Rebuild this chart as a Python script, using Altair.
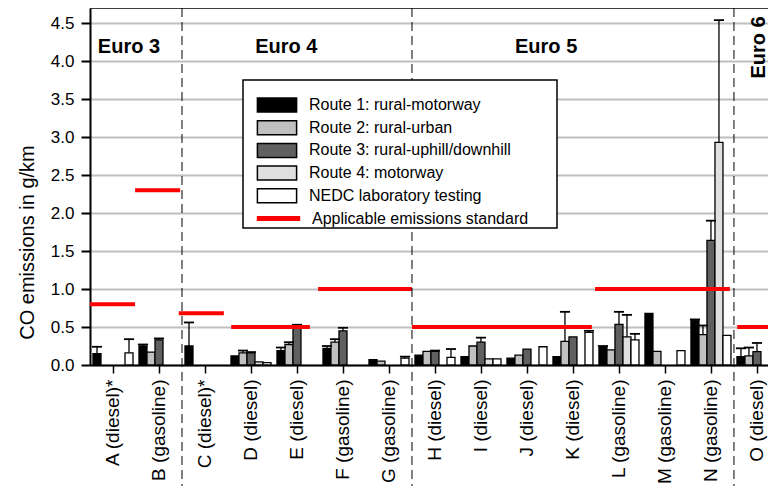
import json
import altair as alt
import pandas as pd

# ---------------- data ----------------
vehicles = ["A (diesel)*", "B (gasoline)", "C (diesel)*", "D (diesel)", "E (diesel)",
            "F (gasoline)", "G (gasoline)", "H (diesel)", "I (diesel)", "J (diesel)",
            "K (diesel)", "L (gasoline)", "M (gasoline)", "N (gasoline)", "O (diesel)"]

series_names = ["Route 1: rural-motorway", "Route 2: rural-urban",
                "Route 3: rural-uphill/downhill", "Route 4: motorway",
                "NEDC laboratory testing"]
series_colors = ["#000000", "#c0c0c0", "#606060", "#e0e0e0", "#ffffff"]

route1 = [0.15, 0.25, 0.25, 0.12, 0.19, 0.22, 0.07, 0.13, 0.11, 0.09, 0.11, 0.24, 0.68, 0.59, 0.11]
route1_hi = [0.24, 0.27, 0.56, None, 0.23, 0.25, None, None, None, None, None, 0.25, None, 0.60, 0.22]
route2 = [0.0, 0.17, 0.0, 0.16, 0.27, 0.30, 0.05, 0.18, 0.25, 0.13, 0.31, 0.20, 0.18, 0.40, 0.12]
route2_hi = [None, None, None, 0.19, 0.30, 0.34, None, None, None, None, 0.70, None, None, 0.52, 0.23]
route3 = [0.0, 0.33, 0.0, 0.16, 0.50, 0.45, 0.0, 0.18, 0.30, 0.21, 0.37, 0.535, 0.0, 1.64, 0.175]
route3_hi = [None, 0.35, None, 0.17, 0.53, 0.49, None, 0.19, 0.36, None, None, 0.70, None, 1.90, 0.29]
route4 = [0.0, 0.0, 0.0, 0.04, 0.0, 0.0, 0.0, 0.0, 0.08, 0.0, 0.0, 0.37, 0.0, 2.93, 0.0]
route4_hi = [None, None, None, None, None, None, None, None, None, None, None, 0.66, None, 4.54, None]
nedc = [0.16, 0.0, 0.0, 0.03, 0.0, 0.0, 0.09, 0.10, 0.08, 0.24, 0.43, 0.33, 0.19, 0.39, 0.06]
nedc_hi = [0.34, None, None, None, None, None, 0.11, 0.21, None, None, 0.45, 0.41, None, None, None]

# applicable emission standards (span in category units, value in g/km)
std_from = [-0.5, 0.48, 1.43, 2.57, 4.46, 6.5, 10.48, 13.57]
std_to = [0.48, 1.46, 2.41, 4.28, 6.5, 10.41, 13.41, 14.6]
std_value = [0.8, 2.3, 0.68, 0.5, 1.0, 0.5, 1.0, 0.5]

# Euro class separators and labels
separators = [1.5, 6.5, 13.5]
euro_names = ["Euro 3", "Euro 4", "Euro 5"]
euro_x = [-0.33, 3.09, 8.74]
euro6_x = [14.04]
euro_y = 4.18

y_ticks = [0.0, 0.5, 1.0, 1.5, 2.0, 2.5, 3.0, 3.5, 4.0, 4.5]

# ---------------- build tables ----------------
BW = 0.174  # bar width in category units
vals = [route1, route2, route3, route4, nedc]
his = [route1_hi, route2_hi, route3_hi, route4_hi, nedc_hi]
rows, errs = [], []
for k, (name, v, h) in enumerate(zip(series_names, vals, his)):
    for i in range(len(vehicles)):
        xc = i + (k - 2) * BW
        if v[i] > 0:
            rows.append(dict(series=name, order=k, xc=xc, x0=xc - BW / 2, x1=xc + BW / 2,
                             value=v[i], base=0.0))
        if h[i] is not None:
            errs.append(dict(xc=xc, c0=xc - 0.11, c1=xc + 0.11, value=v[i], hi=h[i]))
bars_df = pd.DataFrame(rows)
err_df = pd.DataFrame(errs)
std_df = pd.DataFrame(dict(x0=std_from, x1=std_to, value=std_value,
                           kind=["Applicable emissions standard"] * len(std_value)))
sep_df = pd.DataFrame(dict(x=separators))
euro_df = pd.DataFrame(dict(name=euro_names, x=euro_x, y=[euro_y] * 3))
euro6_df = pd.DataFrame(dict(name=["Euro 6"], x=euro6_x, y=[euro_y]))

# ---------------- layout ----------------
FONT = "Liberation Sans"
W, H = 678, 357
PB = 121

xscale = alt.Scale(domain=[-0.5, 14.24], nice=False, zero=False)
yscale = alt.Scale(domain=[0, 4.7], nice=False, zero=True)

label_expr = json.dumps(vehicles) + "[round(datum.value)]"
xaxis = alt.Axis(values=list(range(len(vehicles))), labelExpr=label_expr, labelAngle=270,
                 labelAlign="right", labelBaseline="middle", labelFontSize=19,
                 labelFont=FONT, labelColor="black", labelPadding=6, labelOverlap=False,
                 labelFlush=False, tickSize=8, tickWidth=1.5, tickColor="black",
                 domainColor="black", domainWidth=2, grid=False, title=None)
yaxis = alt.Axis(values=y_ticks, format=".1f", labelOverlap=False, labelFlush=False,
                 tickCount=10,
                 labelFontSize=17, labelFont=FONT, labelColor="black", labelPadding=7,
                 tickSize=9, tickWidth=2, tickColor="black", domainColor="black",
                 domainWidth=2, grid=True, gridColor="#c0c0c0", gridWidth=2,
                 title="CO emissions in g/km", titleFont=FONT, titleFontSize=20,
                 titleFontWeight="normal", titleColor="black", titleAngle=270,
                 titleAlign="center", titleBaseline="middle", titleX=-63, titleY=234)


def X(field):
    return alt.X(field, scale=xscale, axis=xaxis)


def Y(field):
    return alt.Y(field, scale=yscale, axis=yaxis)


bars = alt.Chart(bars_df).mark_bar(stroke="black", strokeWidth=1.3, clip=True).encode(
    x=X("x0:Q"),
    x2="x1:Q",
    y=Y("value:Q"),
    y2="base:Q",
    fill=alt.Fill("series:N", sort=series_names,
                  scale=alt.Scale(domain=series_names, range=series_colors),
                  legend=alt.Legend(orient="none", legendX=179, legendY=89, title=None,
                                    symbolType="M-2.8,-1H2.8V1H-2.8Z", symbolSize=196,
                                    symbolStrokeColor="black", symbolStrokeWidth=1.5,
                                    symbolOpacity=1, labelFont=FONT, labelFontSize=16,
                                    labelColor="black", labelOffset=24, labelLimit=0,
                                    rowPadding=2.7, padding=0)),
)

err_line = alt.Chart(err_df).mark_rule(color="black", strokeWidth=1.3, clip=True).encode(
    x=X("xc:Q"), y=Y("value:Q"), y2="hi:Q")
err_cap = alt.Chart(err_df).mark_rule(color="black", strokeWidth=1.8, clip=True).encode(
    x=X("c0:Q"), x2="c1:Q", y=Y("hi:Q"))

stds = alt.Chart(std_df).mark_rule(strokeWidth=4, clip=True).encode(
    x=X("x0:Q"), x2="x1:Q", y=Y("value:Q"),
    stroke=alt.Stroke("kind:N", scale=alt.Scale(range=["#ff0000"]),
                      legend=alt.Legend(orient="none", legendX=179, legendY=201, title=None,
                                        symbolType="M-3.1,0H3.1", symbolSize=196,
                                        symbolStrokeWidth=5, labelFont=FONT,
                                        labelFontSize=16, labelColor="black",
                                        labelOffset=24, labelLimit=0, padding=0)))

seps = alt.Chart(sep_df).mark_rule(color="black", strokeWidth=1, strokeDash=[9, 5]).encode(
    x=X("x:Q"), y=alt.value(0), y2=alt.value(H + PB))

euro = alt.Chart(euro_df).mark_text(font=FONT, fontSize=20, fontWeight="bold", align="left",
                                    baseline="middle", color="black").encode(
    x=X("x:Q"), y=Y("y:Q"), text="name:N")
euro6 = alt.Chart(euro6_df).mark_text(font=FONT, fontSize=20, fontWeight="bold", align="center",
                                      baseline="middle", angle=270, color="black").encode(
    x=X("x:Q"), y=Y("y:Q"), text="name:N")

legend_box = alt.Chart(pd.DataFrame(dict(a=[0]))).mark_rect(
    fill="white", stroke="black", strokeWidth=1.5).encode(
    x=alt.value(153), x2=alt.value(467), y=alt.value(72), y2=alt.value(220))

top_frame = alt.Chart(pd.DataFrame(dict(a=[0]))).mark_rule(color="black", strokeWidth=1.5).encode(
    x=alt.value(0), x2=alt.value(W), y=alt.value(0))

chart = alt.layer(bars, err_line, err_cap, stds, seps, euro, euro6, legend_box, top_frame).properties(
    width=W, height=H,
    autosize=alt.AutoSizeParams(type="none"),
    padding={"left": 82, "top": 0, "right": 0, "bottom": PB},
    background="white",
).configure_view(stroke=None).configure_legend(symbolStrokeColor="black")

chart.save("out.html", embed_options={"renderer": "svg", "actions": False})
